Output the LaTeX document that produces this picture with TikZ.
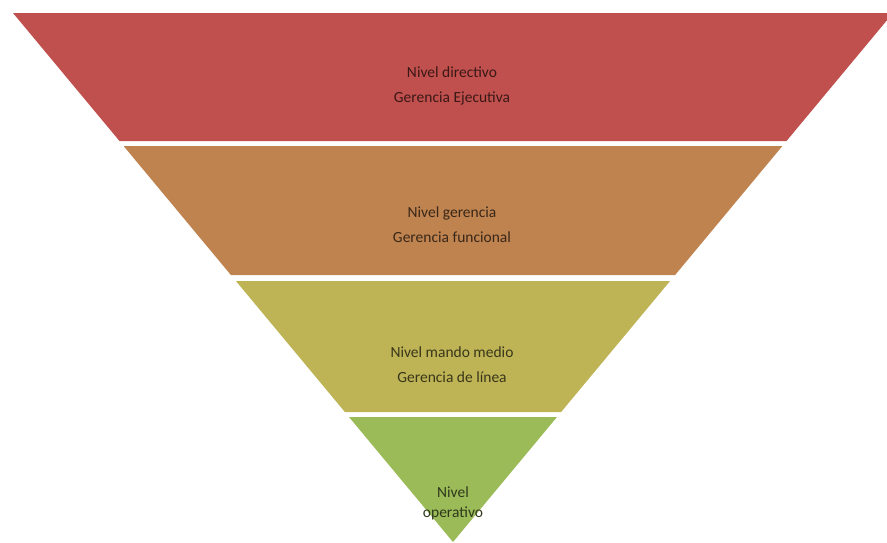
\documentclass[tikz,border=0pt]{standalone}
\usepackage{fontspec}
\setmainfont{Carlito}
\usepackage{tikz}
\usetikzlibrary{calc}
\definecolor{rojo}{RGB}{192,80,77}
\definecolor{naranja}{RGB}{191,131,80}
\definecolor{oliva}{RGB}{190,180,86}
\definecolor{verde}{RGB}{155,187,89}
\tikzstyle{Nivel}=[align=center, font=\fontsize{15.5}{20}\selectfont]

\begin{document}
\begin{tikzpicture}[x=1pt, y=-1pt]
    \useasboundingbox (0,0) rectangle (887,542);
    \clip (0,0) rectangle (887,542);
    % bands of the inverted pyramid
    \fill[rojo] (13,13) -- (893,13) -- (786.5,141) -- (119.5,141) -- cycle;
    \fill[naranja] (123.6,146) -- (782.4,146) -- (675.1,275) -- (230.9,275) -- cycle;
    \fill[oliva] (235.9,281) -- (670.1,281) -- (561.1,412) -- (344.9,412) -- cycle;
    \fill[verde] (349,417) -- (557,417) -- (453,542) -- cycle;

    \path
    (452,86) node[Nivel, text=rojo!30!black] (directivo) {Nivel directivo\\[5pt]Gerencia Ejecutiva}
    (452,225) node[Nivel, text=naranja!30!black] (gerencia) {Nivel gerencia\\[5pt]Gerencia funcional}
    (452,365) node[Nivel, text=oliva!30!black] (mando) {Nivel mando medio\\[5pt]Gerencia de línea}
    (453,503) node[Nivel, text=verde!30!black] (operativo) {Nivel\\operativo};
\end{tikzpicture}
\end{document}
